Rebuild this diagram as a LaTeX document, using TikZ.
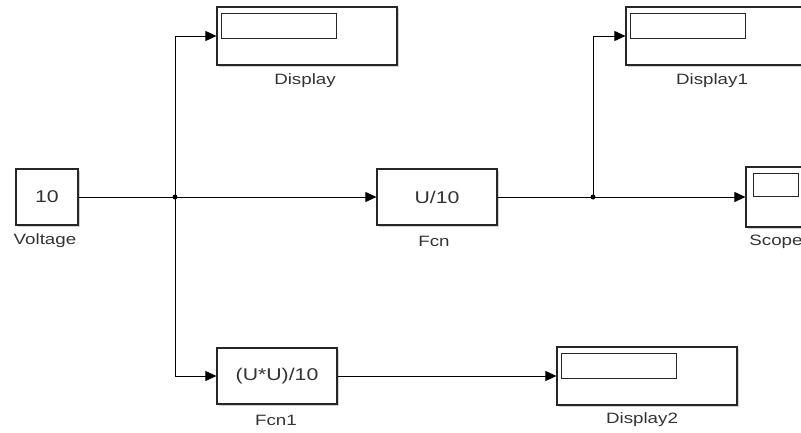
\documentclass[tikz,border=0pt]{standalone}
\usepackage{fontspec}
\newfontfamily\blkfont[FakeStretch=1.25]{Liberation Sans}
\usetikzlibrary{arrows.meta,shadows}

\begin{document}
\begin{tikzpicture}[x=1pt,y=-1pt,
    txt/.style={font=\blkfont\fontsize{15}{18}\selectfont,text=black!80},
    block/.style={draw=black!85,line width=1.2pt,fill=white,inner sep=0pt,
        font=\blkfont\fontsize{17}{20}\selectfont,text=black!80,
        drop shadow={shadow xshift=1.5pt,shadow yshift=-2pt,opacity=.3,fill=black!60}},
    fcnbox/.style={block,minimum width=120pt,minimum height=56pt},
    dispbox/.style={block,minimum width=180pt,minimum height=58pt},
    screen/.style={draw=black!85,line width=1pt},
    sig/.style={draw,line width=0.9pt,-{Triangle[length=11pt,width=10pt]}},
    jct/.style={circle,fill,inner sep=0pt,minimum size=5pt}]

    \clip (0,0) rectangle (801,432);

    \node[block,minimum width=62pt,minimum height=56pt] (volt) at (47,197) {10};
    \node[dispbox] (disp) at (307,36) {};
    \node[dispbox] (disp1) at (716,36) {};
    \node[fcnbox] (fcn) at (437,197) {U/10};
    \node[block,minimum width=60pt,minimum height=60pt] (scope) at (776,197) {};
    \node[fcnbox] (fcn1) at (277,376) {(U*U)/10};
    \node[dispbox] (disp2) at (647,376) {};

    \foreach \d in {disp,disp1,disp2}
        \draw[screen] ([shift={(5pt,-7pt)}]\d.north west) rectangle ([shift={(120pt,-32pt)}]\d.north west);
    \draw[screen] ([shift={(8pt,-7pt)}]scope.north west) rectangle ([shift={(53pt,-30pt)}]scope.north west);

    \node[txt] (voltlbl) at (45,241) {Voltage};
    \node[txt] (displbl) at (305,81) {Display};
    \node[txt] (disp1lbl) at (712,81) {Display1};
    \node[txt] (fcnlbl) at (434,241) {Fcn};
    \node[txt] (scopelbl) at (776,242) {Scope};
    \node[txt] (fcn1lbl) at (276,420) {Fcn1};
    \node[txt] (disp2lbl) at (642,420) {Display2};

    \node[jct] (b1) at (175,197) {};
    \node[jct] (b2) at (593,197) {};

    \draw[sig] (volt.east) -- (fcn.west);
    \draw[sig] (b1.center) |- (disp.west);
    \draw[sig] (b1.center) |- (fcn1.west);
    \draw[sig] (fcn.east) -- (scope.west);
    \draw[sig] (b2.center) |- (disp1.west);
    \draw[sig] (fcn1.east) -- (disp2.west);
\end{tikzpicture}
\end{document}
